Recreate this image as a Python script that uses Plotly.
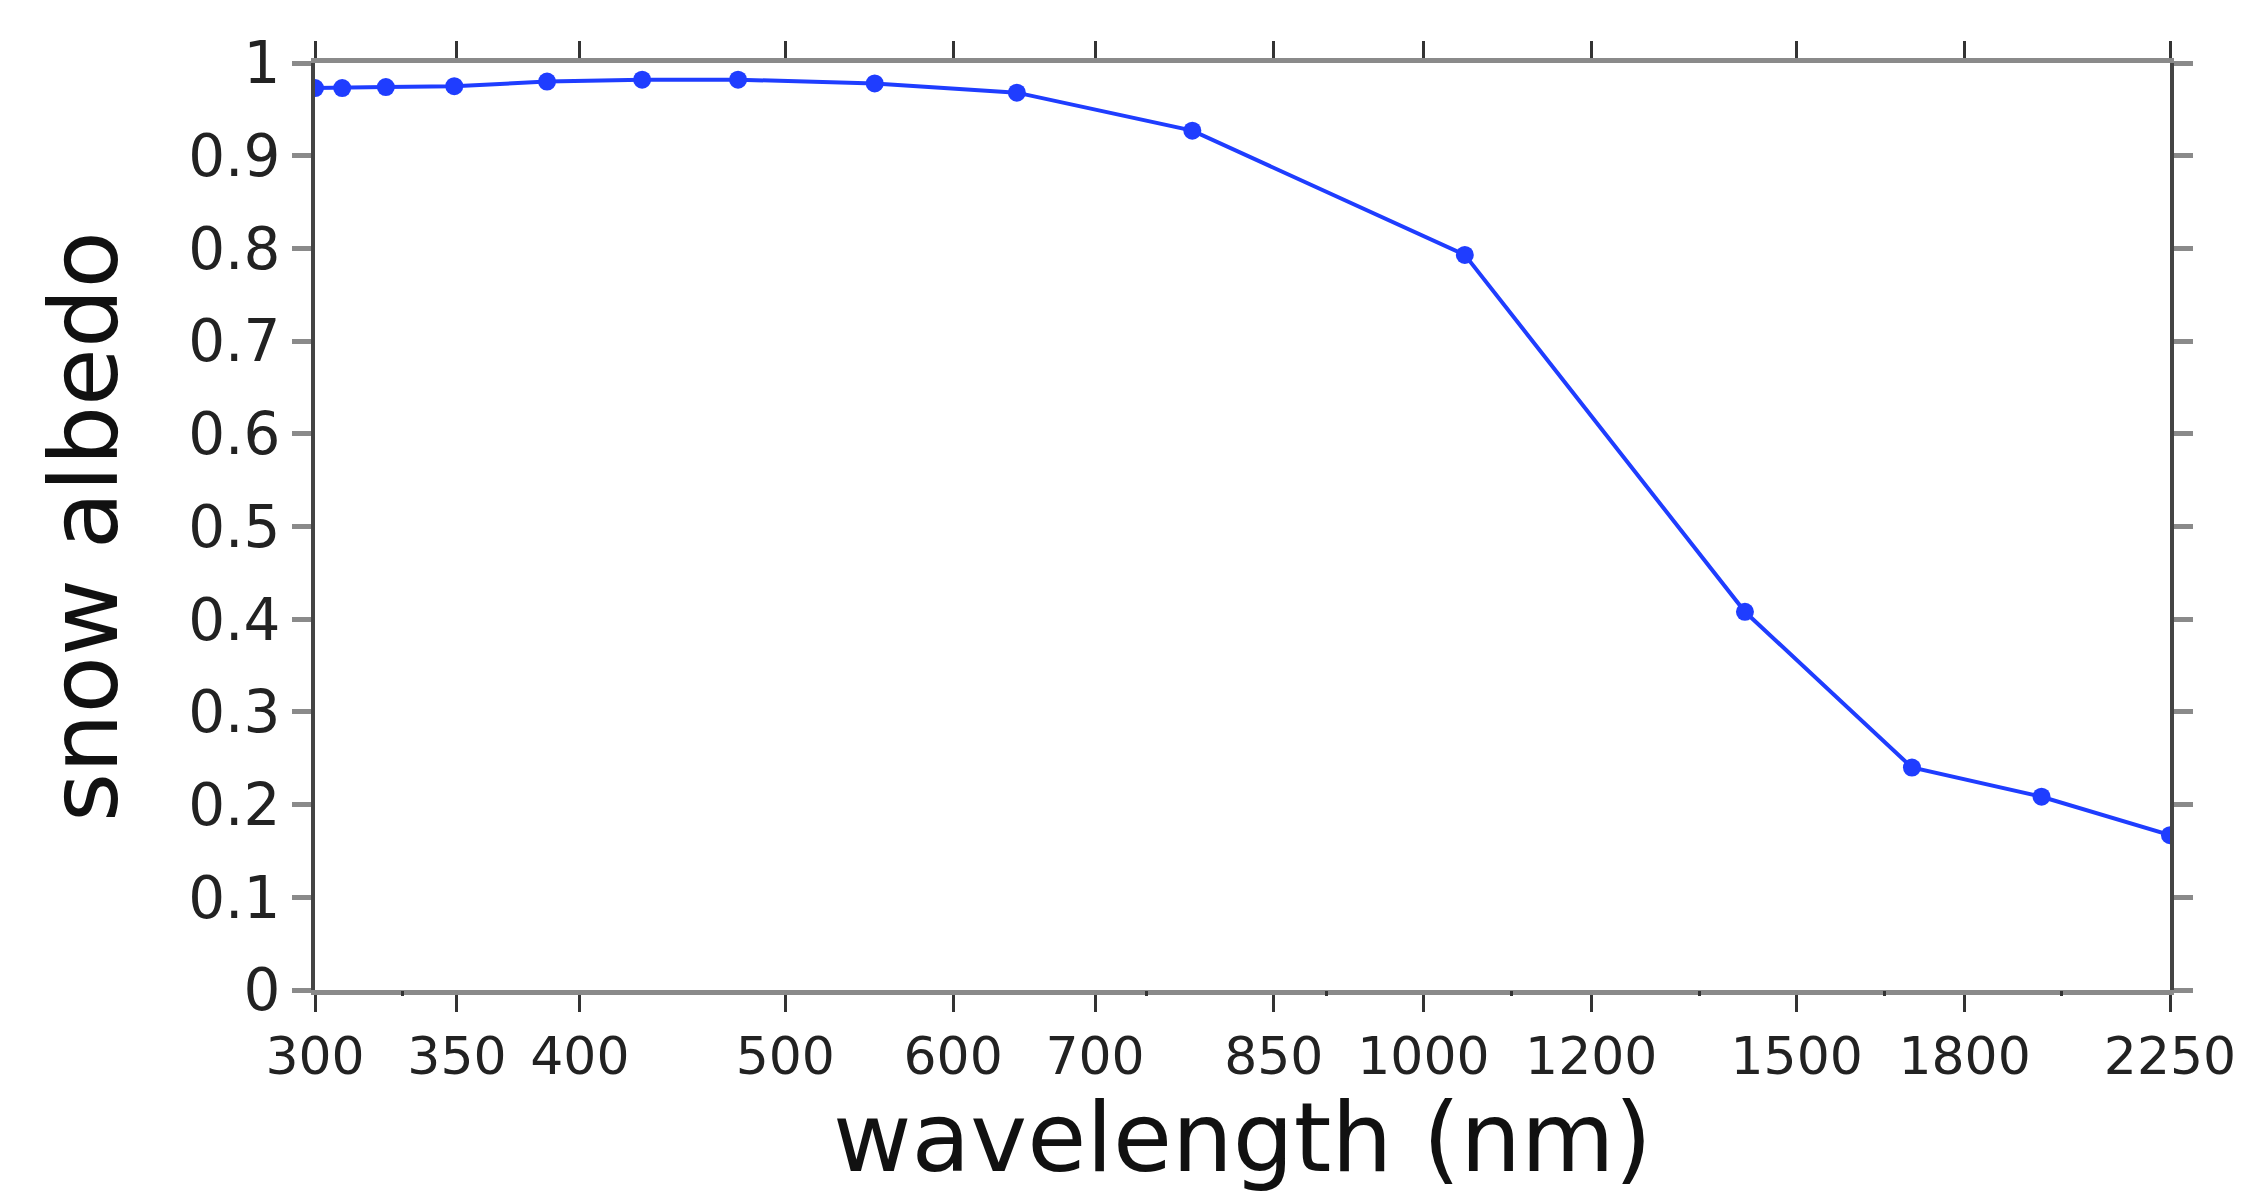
import math
import plotly.graph_objects as go

# Spectral snow albedo sampled at band-centre wavelengths (nm)
wavelength_nm = [300, 309, 324, 349, 386, 428, 475, 551, 643, 778, 1046, 1418, 1700, 1957, 2250]
snow_albedo = [0.973, 0.973, 0.974, 0.975, 0.980, 0.982, 0.982, 0.978, 0.968, 0.927, 0.793, 0.408, 0.240, 0.2085, 0.167]

# Axis ticks
x_tick_vals = [300, 350, 400, 500, 600, 700, 850, 1000, 1200, 1500, 1800, 2250]
x_tick_text = [str(v) for v in x_tick_vals]
x_minor_vals = [330, 740, 900, 1100, 1350, 1650, 2000]
y_tick_vals = [0, 0.1, 0.2, 0.3, 0.4, 0.5, 0.6, 0.7, 0.8, 0.9, 1]
y_tick_text = ["0", "0.1", "0.2", "0.3", "0.4", "0.5", "0.6", "0.7", "0.8", "0.9", "1"]

x_title = "wavelength (nm)"
y_title = "snow albedo"

LINE_BLUE = "#1f3dff"
FONT = "DejaVu Sans"
X_RANGE = [math.log10(300), math.log10(2250)]

fig = go.Figure()
fig.add_trace(go.Scatter(
    x=wavelength_nm,
    y=snow_albedo,
    mode="lines+markers",
    line=dict(color=LINE_BLUE, width=4),
    marker=dict(color=LINE_BLUE, size=18, symbol="circle"),
    cliponaxis=True,
    showlegend=False,
))
# empty trace that carries the bottom-only minor tick axis
fig.add_trace(go.Scatter(x=[], y=[], xaxis="x2", yaxis="y", showlegend=False,
                         hoverinfo="skip"))

fig.update_layout(
    width=2267,
    height=1195,
    margin=dict(l=315, r=97, t=63, b=205, autoexpand=False),
    paper_bgcolor="white",
    plot_bgcolor="white",
    font=dict(family=FONT, color="#222"),
    xaxis=dict(
        type="log",
        range=X_RANGE,
        tickmode="array",
        tickvals=x_tick_vals,
        ticktext=x_tick_text,
        ticks="outside",
        ticklen=17,
        tickwidth=3,
        tickcolor="#333",
        tickfont=dict(family=FONT, size=52, color="#222"),
        showline=True,
        linecolor="#8a8a8a",
        linewidth=5,
        mirror="ticks",
        showgrid=False,
        zeroline=False,
        automargin=False,
    ),
    xaxis2=dict(
        type="log",
        range=X_RANGE,
        overlaying="x",
        anchor="y",
        side="bottom",
        tickmode="array",
        tickvals=x_minor_vals,
        ticks="outside",
        ticklen=5,
        tickwidth=3,
        tickcolor="#333",
        showline=False,
        showgrid=False,
        zeroline=False,
        showticklabels=False,
        automargin=False,
    ),
    yaxis=dict(
        range=[0, 1],
        tickmode="array",
        tickvals=y_tick_vals,
        ticktext=y_tick_text,
        ticks="outside",
        ticklen=19,
        tickwidth=5,
        tickcolor="#8a8a8a",
        tickfont=dict(family=FONT, size=58, color="#222"),
        showline=True,
        linecolor="#444",
        linewidth=4,
        mirror="ticks",
        showgrid=False,
        zeroline=False,
        automargin=True,
        title=dict(text=y_title, font=dict(family=FONT, size=94, color="#111"),
                   standoff=40),
    ),
)

# x-axis title placed just under the tick labels
fig.add_annotation(
    text=x_title,
    xref="paper", yref="paper",
    x=0.5, y=0,
    xanchor="center", yanchor="top",
    yshift=-90,
    showarrow=False,
    font=dict(family=FONT, size=96, color="#111"),
)

fig.write_html("out.html")
